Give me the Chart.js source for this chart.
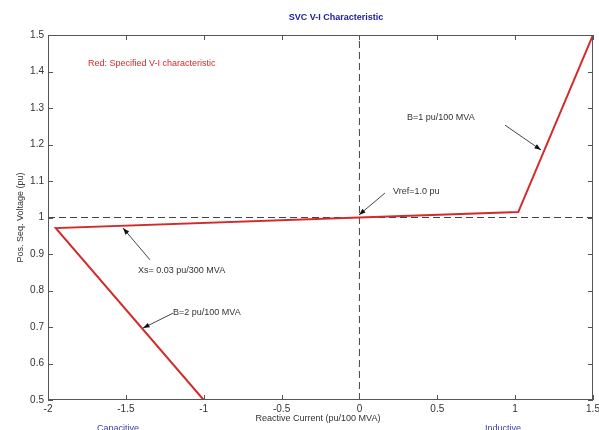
<!DOCTYPE html>
<html>
<head>
<meta charset="utf-8">
<script src="https://cdn.jsdelivr.net/npm/chart.js@4.4.1/dist/chart.umd.min.js"></script>
<style>
  html, body { margin: 0; padding: 0; background: #fff; }
  #wrap { width: 599px; height: 430px; position: relative; }
</style>
</head>
<body>
<div id="wrap"><canvas id="svcChart" width="599" height="430"></canvas></div>
<script>
// SVC V-I characteristic
const currentPu = [-1, -1.95, 0, 1.02, 1.5];
const voltagePu = [0.5, 0.971, 1.0, 1.015, 1.5];

// reference lines: Vref = 1.0 pu and I = 0
const vrefI = [-2, 1.5];
const vrefV = [1.0, 1.0];
const zeroI = [0, 0];
const zeroV = [0.5, 1.5];

const xTicks = [-2, -1.5, -1, -0.5, 0, 0.5, 1, 1.5];
const yTicks = [0.5, 0.6, 0.7, 0.8, 0.9, 1, 1.1, 1.2, 1.3, 1.4, 1.5];

// annotations, in data units: text anchor and arrow (from -> to)
const notes = [
  { text: 'B=1 pu/100 MVA', at: [0.306, 1.275], from: [0.935, 1.253], to: [1.166, 1.185] },
  { text: 'Vref=1.0 pu', at: [0.216, 1.070], from: [0.164, 1.067], to: [-0.003, 1.007] },
  { text: 'Xs= 0.03 pu/300 MVA', at: [-1.422, 0.856], from: [-1.345, 0.884], to: [-1.518, 0.971] },
  { text: 'B=2 pu/100 MVA', at: [-1.197, 0.741], from: [-1.197, 0.738], to: [-1.39, 0.697] }
];

const FONT = '"Liberation Sans", Arial, sans-serif';

const toPoints = (xs, ys) => xs.map((x, i) => ({ x: x, y: ys[i] }));

const matlabFrame = {
  id: 'matlabFrame',
  afterDatasetsDraw(chart) {
    const { ctx, chartArea: a, scales: { x, y } } = chart;
    ctx.save();
    // box + inward ticks on all four sides
    ctx.strokeStyle = '#555';
    ctx.lineWidth = 1;
    ctx.strokeRect(a.left + 0.5, a.top + 0.5, a.right - a.left - 1, a.bottom - a.top - 1);
    ctx.beginPath();
    xTicks.forEach(v => {
      const px = Math.round(x.getPixelForValue(v)) + 0.5;
      ctx.moveTo(px, a.bottom); ctx.lineTo(px, a.bottom - 5);
      ctx.moveTo(px, a.top); ctx.lineTo(px, a.top + 5);
    });
    yTicks.forEach(v => {
      const py = Math.round(y.getPixelForValue(v)) + 0.5;
      ctx.moveTo(a.left, py); ctx.lineTo(a.left + 5, py);
      ctx.moveTo(a.right, py); ctx.lineTo(a.right - 5, py);
    });
    ctx.stroke();

    // arrows
    notes.forEach(n => {
      const x0 = x.getPixelForValue(n.from[0]), y0 = y.getPixelForValue(n.from[1]);
      const x1 = x.getPixelForValue(n.to[0]), y1 = y.getPixelForValue(n.to[1]);
      const ang = Math.atan2(y1 - y0, x1 - x0);
      ctx.strokeStyle = '#444';
      ctx.lineWidth = 1;
      ctx.beginPath();
      ctx.moveTo(x0, y0); ctx.lineTo(x1, y1);
      ctx.stroke();
      ctx.fillStyle = '#111';
      ctx.beginPath();
      ctx.moveTo(x1, y1);
      ctx.lineTo(x1 - 7 * Math.cos(ang - 0.35), y1 - 7 * Math.sin(ang - 0.35));
      ctx.lineTo(x1 - 7 * Math.cos(ang + 0.35), y1 - 7 * Math.sin(ang + 0.35));
      ctx.closePath();
      ctx.fill();
      ctx.font = '9px ' + FONT;
      ctx.fillStyle = '#333';
      ctx.textAlign = 'left';
      ctx.textBaseline = 'middle';
      ctx.fillText(n.text, x.getPixelForValue(n.at[0]), y.getPixelForValue(n.at[1]));
    });

    ctx.font = '9px ' + FONT;
    ctx.fillStyle = '#d42a2a';
    ctx.fillText('Red: Specified V-I characteristic', x.getPixelForValue(-1.743), y.getPixelForValue(1.421));
    ctx.restore();
  },
  afterDraw(chart) {
    const { ctx, chartArea: a } = chart;
    ctx.save();
    ctx.textAlign = 'center';
    ctx.textBaseline = 'middle';
    ctx.font = 'bold 9px ' + FONT;
    ctx.fillStyle = '#2020a0';
    ctx.fillText('SVC V-I Characteristic', 336, 18);

    ctx.font = '9px ' + FONT;
    ctx.fillStyle = '#333';
    ctx.fillText('Reactive Current (pu/100 MVA)', 318, 419);

    ctx.fillStyle = '#3a3aa8';
    ctx.fillText('Capacitive', 118, 429);
    ctx.fillText('Inductive', 503, 429);

    ctx.translate(21, (a.top + a.bottom) / 2);
    ctx.rotate(-Math.PI / 2);
    ctx.fillStyle = '#333';
    ctx.fillText('Pos. Seq. Voltage (pu)', 0, 0);
    ctx.restore();
  }
};

new Chart(document.getElementById('svcChart'), {
  type: 'line',
  data: {
    datasets: [
      {
        label: 'V-I characteristic',
        data: toPoints(currentPu, voltagePu),
        borderColor: '#d42a2a',
        borderWidth: 2,
        pointRadius: 0,
        tension: 0,
        order: 0
      },
      {
        label: 'Vref',
        data: toPoints(vrefI, vrefV),
        borderColor: '#444',
        borderWidth: 1,
        borderDash: [7, 4],
        pointRadius: 0,
        order: 1
      },
      {
        label: 'I = 0',
        data: toPoints(zeroI, zeroV),
        borderColor: '#444',
        borderWidth: 1,
        borderDash: [7, 4],
        pointRadius: 0,
        order: 1
      }
    ]
  },
  options: {
    responsive: false,
    animation: false,
    layout: { padding: { top: 35, right: 6, left: 0, bottom: 0 } },
    plugins: { legend: { display: false }, tooltip: { enabled: false } },
    scales: {
      x: {
        type: 'linear',
        min: -2,
        max: 1.5,
        afterBuildTicks: s => { s.ticks = xTicks.map(v => ({ value: v })); },
        afterFit: s => { s.height = 30; s.paddingRight = 0; s.paddingLeft = 0; },
        grid: { display: false, drawTicks: false },
        border: { display: false },
        ticks: {
          autoSkip: false,
          maxRotation: 0,
          padding: 3,
          color: '#333',
          font: { family: FONT, size: 10 },
          callback: v => String(v)
        }
      },
      y: {
        type: 'linear',
        min: 0.5,
        max: 1.5,
        afterBuildTicks: s => { s.ticks = yTicks.map(v => ({ value: v })); },
        afterFit: s => { s.width = 48; s.paddingTop = 0; s.paddingBottom = 0; },
        grid: { display: false, drawTicks: false },
        border: { display: false },
        ticks: {
          autoSkip: false,
          padding: 4,
          color: '#333',
          font: { family: FONT, size: 10 },
          callback: v => String(+v.toFixed(1))
        }
      }
    }
  },
  plugins: [matlabFrame]
});
</script>
</body>
</html>
